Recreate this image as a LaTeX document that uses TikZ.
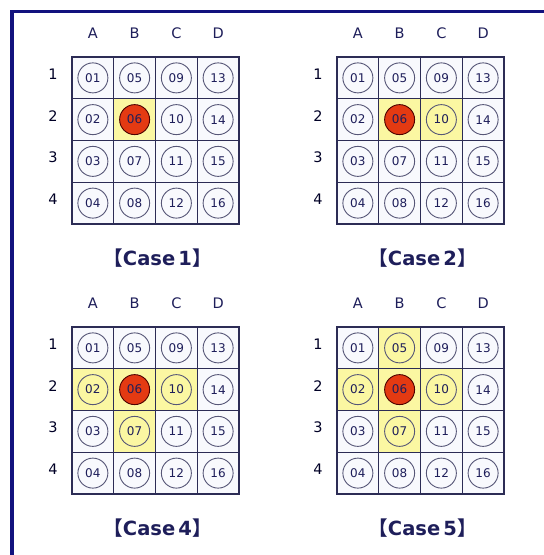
\documentclass[tikz,border=0pt]{standalone}
\usepackage{fontspec}
\setmainfont{DejaVu Sans}
\newfontfamily\cjk{Noto Sans CJK SC}
\usepackage{xcolor}
\usepackage{tikz}
\usetikzlibrary{positioning}

\definecolor{framenavy}{HTML}{12127E}
\definecolor{gridnavy}{HTML}{2C2C55}
\definecolor{textnavy}{HTML}{1E1E5A}
\definecolor{cellbg}{HTML}{F8F9FD}
\definecolor{hiyellow}{HTML}{FBF7A2}
\definecolor{hotred}{HTML}{E43A12}

\newcommand{\cellsz}{41.75}

%% one case: #1,#2 = top-left of grid, #3 = case number, #4 = yellow cells (col/row)
\newcommand{\drawcase}[4]{%
\begin{scope}[shift={(#1,#2)}, name prefix=case#3-]
  %% --- cells ---
  \fill[cellbg] (0,0) rectangle (4*\cellsz,4*\cellsz);
  \foreach \ci/\rj in {#4}
    \fill[hiyellow] (\ci*\cellsz,\rj*\cellsz) rectangle ++(\cellsz,\cellsz);
  \foreach \k in {1,2,3}{
    \draw[gridline] (\k*\cellsz,0) -- (\k*\cellsz,4*\cellsz);
    \draw[gridline] (0,\k*\cellsz) -- (4*\cellsz,\k*\cellsz);
  }
  \draw[gridline] (0,0) rectangle (4*\cellsz,4*\cellsz);
  %% --- labels and numbered circles ---
  \foreach \i in {0,...,3}{
    \node[axislabel] (col\i) at ({(\i+0.5)*\cellsz},-24) {\ifcase\i A\or B\or C\or D\fi};
    \node[axislabel, text=black!85!blue] (row\i) at (-19,{(\i+0.5)*\cellsz-4}) {\the\numexpr\i+1\relax};
    \foreach \j in {0,...,3}{
      \pgfmathtruncatemacro\num{4*\i+\j+1}
      \edef\circstyle{\ifnum\num=6 hotcirc\else numcirc\fi}
      \node[\circstyle] (n\num) at ({(\i+0.5)*\cellsz},{(\j+0.5)*\cellsz}) {\ifnum\num<10 0\fi\num};
    }
  }
  %% --- caption ---
  \node[caption] (title) at (2*\cellsz+2,201) {{\cjk 【}Case\,#3{\cjk 】}};
\end{scope}}

\begin{document}
\begin{tikzpicture}[
  x=1pt, y=-1pt,
  gridline/.style={draw=gridnavy, line width=1.3pt},
  numcirc/.style={circle, draw=gridnavy!80, line width=0.9pt, minimum size=30pt, inner sep=0pt,
                  font=\fontsize{12}{12}\selectfont, text=textnavy},
  hotcirc/.style={numcirc, fill=hotred, draw=black!70!red},
  axislabel/.style={font=\fontsize{14.5}{14.5}\selectfont, text=textnavy},
  caption/.style={font=\fontsize{19.5}{19.5}\selectfont\bfseries, text=textnavy},
]
\useasboundingbox (0,0) rectangle (544,555);
\fill[white] (0,0) rectangle (544,555);

%% --- frame ---
\draw[framenavy, line width=3.2pt] (12,555) -- (12,11.5) -- (544,11.5);

%% --- the four cases ---
\drawcase{72}{57}{1}{1/1}
\drawcase{337}{57}{2}{1/1,2/1}
\drawcase{72}{327}{4}{0/1,1/1,2/1,1/2}
\drawcase{337}{327}{5}{0/1,1/1,2/1,1/2,1/0}

\end{tikzpicture}
\end{document}
